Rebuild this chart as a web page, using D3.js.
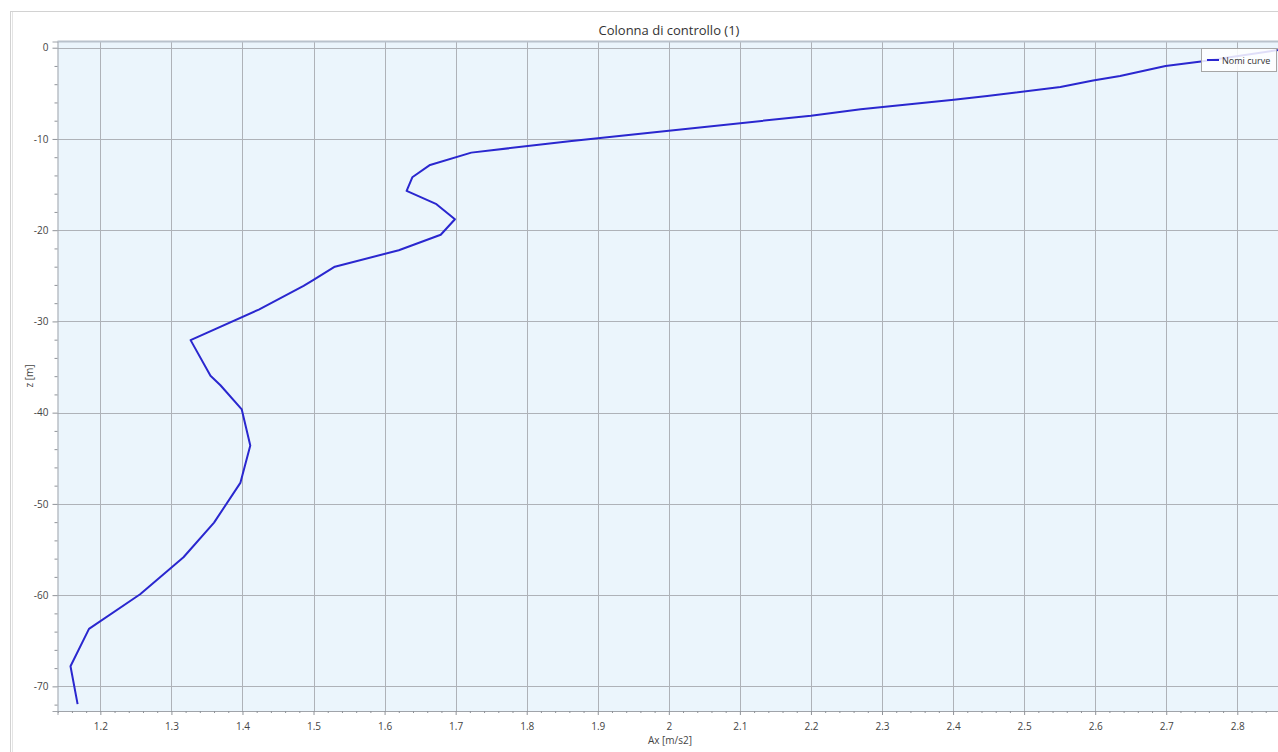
<!DOCTYPE html>
<html>
<head>
<meta charset="utf-8">
<script src="https://cdn.jsdelivr.net/npm/d3@7"></script>
<style>
  html, body { margin: 0; padding: 0; background: #fff; overflow: hidden; }
  svg { display: block; font-family: "Open Sans", "Noto Sans", sans-serif; }
</style>
</head>
<body>
<div class="profile_chart"></div>
<script>
// depth profile
var depth = [0, -1.5, -2.0, -3.1, -3.6, -4.3, -5.3, -5.7, -6.75, -7.45, -9.1, -10.25,
  -11.5, -12.85, -14.2, -15.7, -17.15, -18.8, -20.5, -22.2, -24.0, -25.45, -26.1,
  -28.7, -32.05, -35.95, -37.0, -39.65, -43.6, -47.7, -52.05, -55.85, -59.9, -63.7,
  -67.8, -71.95];
var accel = [2.88, 2.749, 2.699, 2.635, 2.597, 2.551, 2.448, 2.401, 2.27, 2.2, 2.0, 1.86,
  1.722, 1.664, 1.639, 1.631, 1.673, 1.699, 1.679, 1.62, 1.53, 1.50, 1.486,
  1.423, 1.327, 1.355, 1.369, 1.399, 1.411, 1.397, 1.36, 1.317, 1.256, 1.184,
  1.158, 1.168];
var xTicks = [1.2, 1.3, 1.4, 1.5, 1.6, 1.7, 1.8, 1.9, 2, 2.1, 2.2, 2.3, 2.4, 2.5, 2.6, 2.7, 2.8];
var yTicks = [0, -10, -20, -30, -40, -50, -60, -70];
var title = "Colonna di controllo (1)";
var xTitle = "Ax [m/s2]";
var yTitle = "z [m]";
var seriesName = "Nomi curve";

function profile_chart() {
  var W = 1278, H = 752;
  var plot = { left: 57.5, top: 41.5, right: 1292, bottom: 711 };
  var lineColor = "#2a27cf";

  var svg = d3
    .select(".profile_chart")
    .append("svg")
    .attr("width", W)
    .attr("height", H);

  // outer frame
  svg.append("rect")
    .attr("x", 10.5).attr("y", 11.5)
    .attr("width", W).attr("height", H)
    .style("fill", "#fff")
    .style("stroke", "#d2d2d2");
  svg.append("line")
    .attr("x1", 12.5).attr("x2", 12.5).attr("y1", 12).attr("y2", H)
    .style("stroke", "#e4e4e4");

  var x = d3.scaleLinear()
    .domain([1.1397, 1.1397 + (plot.right - plot.left) / 710.6])
    .range([plot.left, plot.right]);
  var y = d3.scaleLinear()
    .domain([0.68, -72.7])
    .range([plot.top, plot.bottom]);

  svg.append("clipPath").attr("id", "plotclip")
    .append("rect")
    .attr("x", plot.left).attr("y", plot.top)
    .attr("width", plot.right - plot.left).attr("height", plot.bottom - plot.top);

  // plot background
  svg.append("rect")
    .attr("x", plot.left).attr("y", plot.top)
    .attr("width", plot.right - plot.left).attr("height", plot.bottom - plot.top)
    .style("fill", "#ebf5fc");

  // grid
  var grid = svg.append("g").attr("class", "grid");
  grid.selectAll(".vgrid")
    .data(xTicks)
    .enter()
    .append("line")
    .attr("class", "vgrid")
    .attr("x1", function (d) { return Math.round(x(d)) + 0.5; })
    .attr("x2", function (d) { return Math.round(x(d)) + 0.5; })
    .attr("y1", plot.top).attr("y2", plot.bottom)
    .style("stroke", "#aeb2b8");
  grid.selectAll(".hgrid")
    .data(yTicks)
    .enter()
    .append("line")
    .attr("class", "hgrid")
    .attr("y1", function (d) { return Math.round(y(d)) + 0.5; })
    .attr("y2", function (d) { return Math.round(y(d)) + 0.5; })
    .attr("x1", plot.left).attr("x2", plot.right)
    .style("stroke", "#aeb2b8");

  // plot border (top a bit stronger)
  svg.append("line")
    .attr("x1", plot.left).attr("x2", plot.right)
    .attr("y1", plot.top).attr("y2", plot.top)
    .style("stroke", "#b9c2cc").style("stroke-width", 2);

  // axes
  var xMinor = d3.range(1.14, 2.88, 0.02).filter(function (v) {
    return Math.abs(v * 10 - Math.round(v * 10)) > 0.01;
  });
  var yMinor = d3.range(0, -73, -2).filter(function (v) { return v % 10 !== 0; });

  svg.append("g")
    .attr("class", "x axis")
    .attr("transform", "translate(0," + plot.bottom + ")")
    .call(d3.axisBottom(x).tickValues(xTicks).tickSize(4).tickPadding(8)
      .tickFormat(function (d) { return String(d); }));
  svg.append("g")
    .attr("class", "x minor")
    .attr("transform", "translate(0," + plot.bottom + ")")
    .call(d3.axisBottom(x).tickValues(xMinor).tickSize(2).tickFormat(""));

  svg.append("g")
    .attr("class", "y axis")
    .attr("transform", "translate(" + plot.left + ",0)")
    .call(d3.axisLeft(y).tickValues(yTicks).tickSize(5).tickPadding(4)
      .tickFormat(function (d) { return d === 0 ? "0" : "-" + Math.abs(d); }));
  svg.append("g")
    .attr("class", "y minor")
    .attr("transform", "translate(" + plot.left + ",0)")
    .call(d3.axisLeft(y).tickValues(yMinor).tickSize(3).tickFormat(""));

  svg.selectAll(".axis .domain").style("stroke", "#a0a4aa");
  svg.selectAll(".minor .domain").remove();
  svg.selectAll(".axis .tick line, .minor .tick line").style("stroke", "#8f9399");
  svg.selectAll(".axis .tick text")
    .style("font-size", "10px")
    .style("font-family", "\"Open Sans\", sans-serif")
    .style("fill", "#444");

  // curve
  var pts = depth.map(function (d, i) { return [accel[i], d]; });
  var line = d3.line()
    .x(function (d) { return x(d[0]); })
    .y(function (d) { return y(d[1]); });
  svg.append("path")
    .datum(pts)
    .attr("clip-path", "url(#plotclip)")
    .attr("d", line)
    .style("fill", "none")
    .style("stroke", lineColor)
    .style("stroke-width", 2)
    .style("stroke-linejoin", "round");

  // titles
  svg.append("text")
    .attr("x", 669).attr("y", 35)
    .attr("text-anchor", "middle")
    .style("font-size", "13px")
    .style("fill", "#333")
    .text(title);
  svg.append("text")
    .attr("x", 670).attr("y", 744)
    .attr("text-anchor", "middle")
    .style("font-size", "10px")
    .style("fill", "#444")
    .text(xTitle);
  svg.append("text")
    .attr("transform", "translate(33,376) rotate(-90)")
    .attr("text-anchor", "middle")
    .style("font-size", "10px")
    .style("fill", "#444")
    .text(yTitle);

  // legend
  var legend = svg.append("g").attr("class", "legend");
  legend.append("rect")
    .attr("x", 1201.5).attr("y", 48.5)
    .attr("width", 75).attr("height", 23)
    .style("fill", "#fff").style("fill-opacity", 0.85)
    .style("stroke", "#a6a6a6");
  legend.append("line")
    .attr("x1", 1207).attr("x2", 1219)
    .attr("y1", 60).attr("y2", 60)
    .style("stroke", lineColor).style("stroke-width", 2);
  legend.append("text")
    .attr("x", 1222).attr("y", 63.5)
    .style("font-size", "9px")
    .style("fill", "#333")
    .text(seriesName);
}

profile_chart();
</script>
</body>
</html>
